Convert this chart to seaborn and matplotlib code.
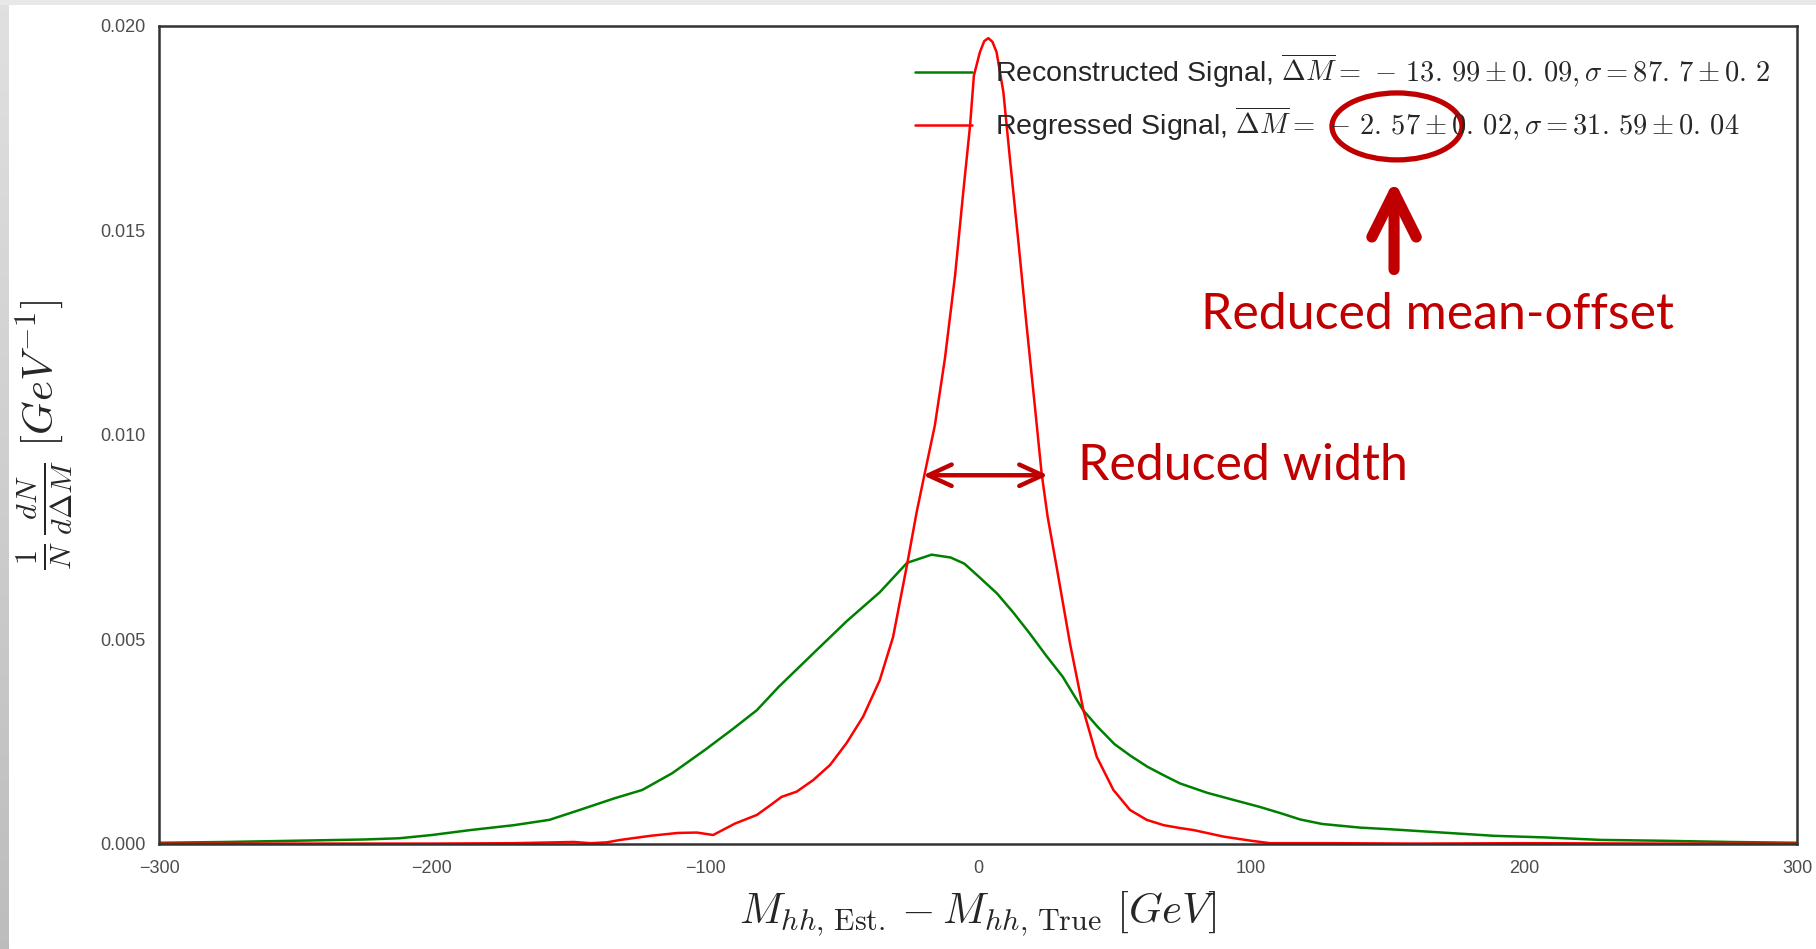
import numpy as np
import matplotlib
matplotlib.use("Agg")
import matplotlib.pyplot as plt
import seaborn as sns
from matplotlib.patches import Ellipse, FancyArrowPatch

# values
rec_dm = [-300, -275, -250, -225, -212, -200, -186, -170, -157, -146, -133, -123,
          -112, -100, -90, -81, -73, -60, -48, -36, -26, -17, -10, -5, 0, 7, 13,
          19, 25, 31, 38.5, 44, 50, 56, 62, 68, 74, 84, 94, 103, 111, 118, 126,
          140, 151, 170, 189, 208, 228, 250, 275, 300]
rec_density = [0.00003, 0.00005, 0.00008, 0.00011, 0.00014, 0.00022, 0.00034,
               0.00046, 0.00059, 0.00083, 0.00112, 0.00132, 0.00173, 0.00230,
               0.00280, 0.00327, 0.00384, 0.00468, 0.00545, 0.00615, 0.00687,
               0.00707, 0.00700, 0.00685, 0.00655, 0.00612, 0.00565, 0.00514,
               0.00460, 0.00409, 0.00327, 0.00285, 0.00244, 0.00215, 0.00189,
               0.00168, 0.00148, 0.00125, 0.00107, 0.00091, 0.00075, 0.00060,
               0.00049, 0.00040, 0.00036, 0.00028, 0.00020, 0.00016, 0.00010,
               0.00008, 0.00005, 0.00003]

reg_dm = [-300, -250, -200, -170, -155, -148, -142, -136, -131, -120, -110, -103,
          -97, -89, -81, -76, -72, -66.4, -60.4, -54.2, -48.1, -42.1, -36, -31.1,
          -25.8, -22.5, -19.5, -15.8, -12.1, -8.4, -5.4, -2.9, -1.5, 0.7, 2.3,
          3.8, 5.3, 6.8, 9.3, 11.7, 14.8, 17.8, 20.9, 23.3, 25.5, 28.8, 33.7,
          38.6, 43.5, 49.6, 55.7, 61.8, 68, 74, 79, 90, 100, 107, 130, 160, 200,
          250, 300]
reg_density = [0.00001, 0.00001, 0.00001, 0.00002, 0.00004, 0.00005, 0.00002,
               0.00004, 0.00010, 0.00020, 0.00027, 0.00028, 0.00022, 0.00050,
               0.00071, 0.00095, 0.00115, 0.00128, 0.00156, 0.00193, 0.00247,
               0.00311, 0.00400, 0.00506, 0.00689, 0.00810, 0.00906, 0.01023,
               0.01187, 0.01389, 0.01593, 0.01756, 0.01878, 0.01935, 0.01962,
               0.01969, 0.01960, 0.01935, 0.01837, 0.01674, 0.01471, 0.01267,
               0.01065, 0.00906, 0.00800, 0.00677, 0.00490, 0.00327, 0.00213,
               0.00132, 0.00083, 0.00059, 0.00046, 0.00039, 0.00034, 0.00018,
               0.00008, 0.00002, 0.00002, 0.00001, 0.00002, 0.00001, 0.00001]

rec_label = (r"Reconstructed Signal, $\overline{\Delta M}=\,-\,13.\,99\pm0.\,09,"
             r"\sigma=87.\,7\pm0.\,2$")
reg_label = (r"Regressed Signal, $\overline{\Delta M}=\,-\,2.\,57\pm0.\,02,"
             r"\sigma=31.\,59\pm0.\,04$")
x_ticks = [-300, -200, -100, 0, 100, 200, 300]
y_ticks = [0.000, 0.005, 0.010, 0.015, 0.020]

sns.set_style("white")
plt.rcParams['font.family'] = ['Liberation Sans', 'DejaVu Sans']
plt.rcParams['mathtext.fontset'] = 'cm'

fig = plt.figure(figsize=(18.16, 9.49), dpi=100)

# slide edge shading
band = np.linspace(0.88, 0.74, 949)[:, None, None] * np.ones((949, 9, 3))
fig.figimage(band, xo=0, yo=0, zorder=0)
top = np.full((5, 1816, 3), 0.91)
fig.figimage(top, xo=0, yo=944, zorder=0)

ax = fig.add_axes([159 / 1816, 1 - 844 / 949, 1638 / 1816, 818.5 / 949])

sns.lineplot(x=rec_dm, y=rec_density, color='g', lw=1.8, label=rec_label, ax=ax)
sns.lineplot(x=reg_dm, y=reg_density, color='r', lw=1.8, label=reg_label, ax=ax)

ax.set_xlim(-300, 300)
ax.set_ylim(0, 0.020)
ax.set_xticks(x_ticks)
ax.set_yticks(y_ticks)
ax.set_yticklabels([f"{v:.3f}" for v in y_ticks])
ax.tick_params(axis='both', labelsize=13, colors='.3')
ax.tick_params(axis='y', pad=6)
ax.tick_params(axis='x', pad=8)
for s in ax.spines.values():
    s.set_linewidth(1.8)
    s.set_color('.2')

ax.set_xlabel(r"$M_{hh,\,\mathrm{Est.}} - M_{hh,\,\mathrm{True}}\ [GeV]$", fontsize=31, va='center')
ax.xaxis.set_label_coords(0.5, -0.085)
ax.set_ylabel(r"$\frac{1}{N}\,\frac{dN}{d\Delta M}\ [GeV^{-1}]$", fontsize=31, va='center')
ax.yaxis.set_label_coords(-0.07, 0.5)

ax.legend(loc='upper left', bbox_to_anchor=(0.4615, 0.968), frameon=False,
          fontsize=20.5, handlelength=2.0, handletextpad=0.8, labelspacing=0.53,
          borderpad=0, borderaxespad=0)

# slide annotations
dark_red = '#C00000'
ax.add_patch(Ellipse((0.7558, 0.8767), 0.0794, 0.0818, transform=ax.transAxes,
                     fill=False, ec=dark_red, lw=3.8, clip_on=False, zorder=5))
ax.add_patch(FancyArrowPatch((0.754, (844 - 272) / 819), (0.754, (844 - 177) / 819),
                             transform=ax.transAxes, arrowstyle='->,head_length=1.6,head_width=0.8',
                             mutation_scale=20, lw=8, color=dark_red, capstyle='round',
                             joinstyle='round', clip_on=False, zorder=5))
ax.add_patch(FancyArrowPatch((0.4664, 0.4505), (0.5427, 0.4505), transform=ax.transAxes,
                             arrowstyle='<->,head_length=1.2,head_width=0.55',
                             mutation_scale=14, lw=3.2, color=dark_red, capstyle='round',
                             shrinkA=0, shrinkB=0, zorder=5))
ax.text(0.636, 0.646, "Reduced mean-offset", transform=ax.transAxes, color=dark_red,
        fontsize=36, family='Lato', va='center', ha='left')
ax.text(0.561, 0.462, "Reduced width", transform=ax.transAxes, color=dark_red,
        fontsize=36, family='Lato', va='center', ha='left')

fig.savefig("out.png", dpi=100)
